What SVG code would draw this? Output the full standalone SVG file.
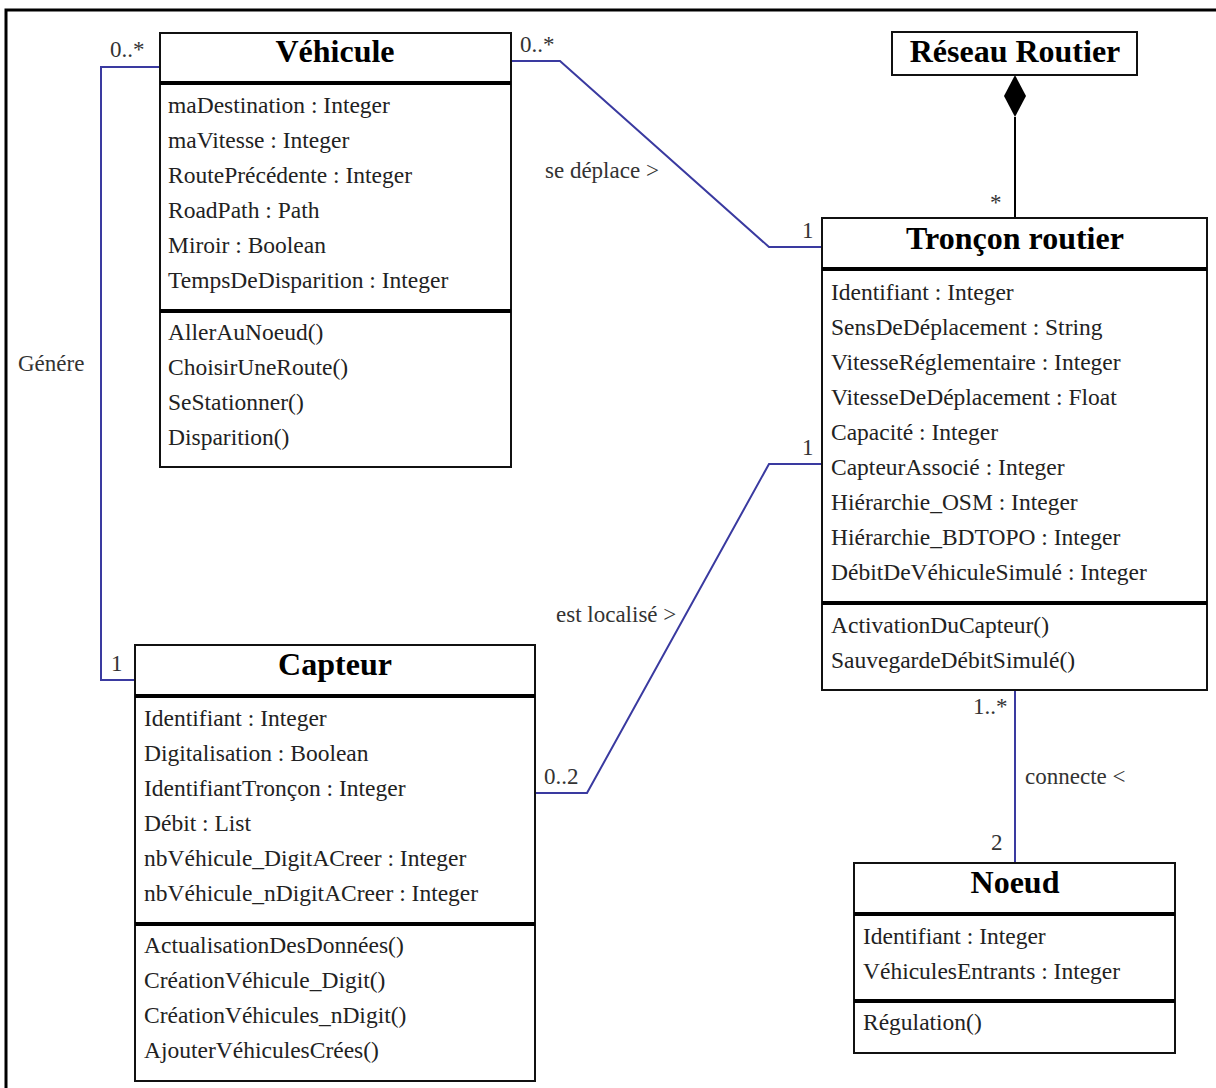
<svg xmlns="http://www.w3.org/2000/svg" width="1216" height="1088" viewBox="0 0 1216 1088">
<style>
.box{fill:#fff;stroke:#111;stroke-width:2}
.sep{stroke:#000;stroke-width:4}
.t{font-family:"Liberation Serif",serif;font-size:23.5px;fill:#222}
.h{font-family:"Liberation Serif",serif;font-size:32px;font-weight:bold;fill:#000;text-anchor:middle}
.c{fill:none;stroke:#3a3aa0;stroke-width:2}
.l{font-family:"Liberation Serif",serif;font-size:23px;fill:#333}
</style>
<rect x="6" y="10" width="1230" height="1100" fill="#fff" stroke="#000" stroke-width="3"/>
<g id="connectors">
<polyline class="c" points="511,61 560,61 769,247 822,247"/>
<polyline class="c" points="160,67 101,67 101,680 135,680"/>
<polyline class="c" points="535,793 587,793 769,464 822,464"/>
<line class="c" x1="1015" y1="690" x2="1015" y2="863"/>
<line x1="1015" y1="117" x2="1015" y2="218" stroke="#000" stroke-width="2"/>
<polygon points="1015,75 1026,96 1015,117 1004,96" fill="#000"/>
<text class="l" x="520" y="52">0..*</text>
<text class="l" x="802" y="238">1</text>
<text class="l" x="545" y="178">se déplace &gt;</text>
<text class="l" x="110" y="57">0..*</text>
<text class="l" x="111" y="671">1</text>
<text class="l" x="18" y="371">Génére</text>
<text class="l" x="544" y="784">0..2</text>
<text class="l" x="802" y="455">1</text>
<text class="l" x="556" y="622">est localisé &gt;</text>
<text class="l" x="973" y="714">1..*</text>
<text class="l" x="991" y="850">2</text>
<text class="l" x="1025" y="784">connecte &lt;</text>
<text class="l" x="990" y="210">*</text>
</g>
<g id="vehicule">
<rect class="box" x="160" y="33" width="351" height="434"/>
<line class="sep" x1="160" y1="83" x2="511" y2="83"/>
<line class="sep" x1="160" y1="311" x2="511" y2="311"/>
<text class="h" x="335" y="62">Véhicule</text>
<text class="t" x="168" y="113">maDestination : Integer</text>
<text class="t" x="168" y="148">maVitesse : Integer</text>
<text class="t" x="168" y="183">RoutePrécédente : Integer</text>
<text class="t" x="168" y="218">RoadPath : Path</text>
<text class="t" x="168" y="253">Miroir : Boolean</text>
<text class="t" x="168" y="288">TempsDeDisparition : Integer</text>
<text class="t" x="168" y="340">AllerAuNoeud()</text>
<text class="t" x="168" y="375">ChoisirUneRoute()</text>
<text class="t" x="168" y="410">SeStationner()</text>
<text class="t" x="168" y="445">Disparition()</text>
</g>
<g id="reseau">
<rect class="box" x="892" y="32" width="245" height="43"/>
<text class="h" x="1015" y="62">Réseau Routier</text>
</g>
<g id="troncon">
<rect class="box" x="822" y="218" width="385" height="472"/>
<line class="sep" x1="822" y1="269" x2="1207" y2="269"/>
<line class="sep" x1="822" y1="603" x2="1207" y2="603"/>
<text class="h" x="1015" y="249">Tronçon routier</text>
<text class="t" x="831" y="300">Identifiant : Integer</text>
<text class="t" x="831" y="335">SensDeDéplacement : String</text>
<text class="t" x="831" y="370">VitesseRéglementaire : Integer</text>
<text class="t" x="831" y="405">VitesseDeDéplacement : Float</text>
<text class="t" x="831" y="440">Capacité : Integer</text>
<text class="t" x="831" y="475">CapteurAssocié : Integer</text>
<text class="t" x="831" y="510">Hiérarchie_OSM : Integer</text>
<text class="t" x="831" y="545">Hiérarchie_BDTOPO : Integer</text>
<text class="t" x="831" y="580">DébitDeVéhiculeSimulé : Integer</text>
<text class="t" x="831" y="633">ActivationDuCapteur()</text>
<text class="t" x="831" y="668">SauvegardeDébitSimulé()</text>
</g>
<g id="capteur">
<rect class="box" x="135" y="645" width="400" height="436"/>
<line class="sep" x1="135" y1="696" x2="535" y2="696"/>
<line class="sep" x1="135" y1="924" x2="535" y2="924"/>
<text class="h" x="335" y="675">Capteur</text>
<text class="t" x="144" y="726">Identifiant : Integer</text>
<text class="t" x="144" y="761">Digitalisation : Boolean</text>
<text class="t" x="144" y="796">IdentifiantTronçon : Integer</text>
<text class="t" x="144" y="831">Débit : List</text>
<text class="t" x="144" y="866">nbVéhicule_DigitACreer : Integer</text>
<text class="t" x="144" y="901">nbVéhicule_nDigitACreer : Integer</text>
<text class="t" x="144" y="953">ActualisationDesDonnées()</text>
<text class="t" x="144" y="988">CréationVéhicule_Digit()</text>
<text class="t" x="144" y="1023">CréationVéhicules_nDigit()</text>
<text class="t" x="144" y="1058">AjouterVéhiculesCrées()</text>
</g>
<g id="noeud">
<rect class="box" x="854" y="863" width="321" height="190"/>
<line class="sep" x1="854" y1="914" x2="1175" y2="914"/>
<line class="sep" x1="854" y1="1001" x2="1175" y2="1001"/>
<text class="h" x="1015" y="893">Noeud</text>
<text class="t" x="863" y="944">Identifiant : Integer</text>
<text class="t" x="863" y="979">VéhiculesEntrants : Integer</text>
<text class="t" x="863" y="1030">Régulation()</text>
</g>
</svg>
